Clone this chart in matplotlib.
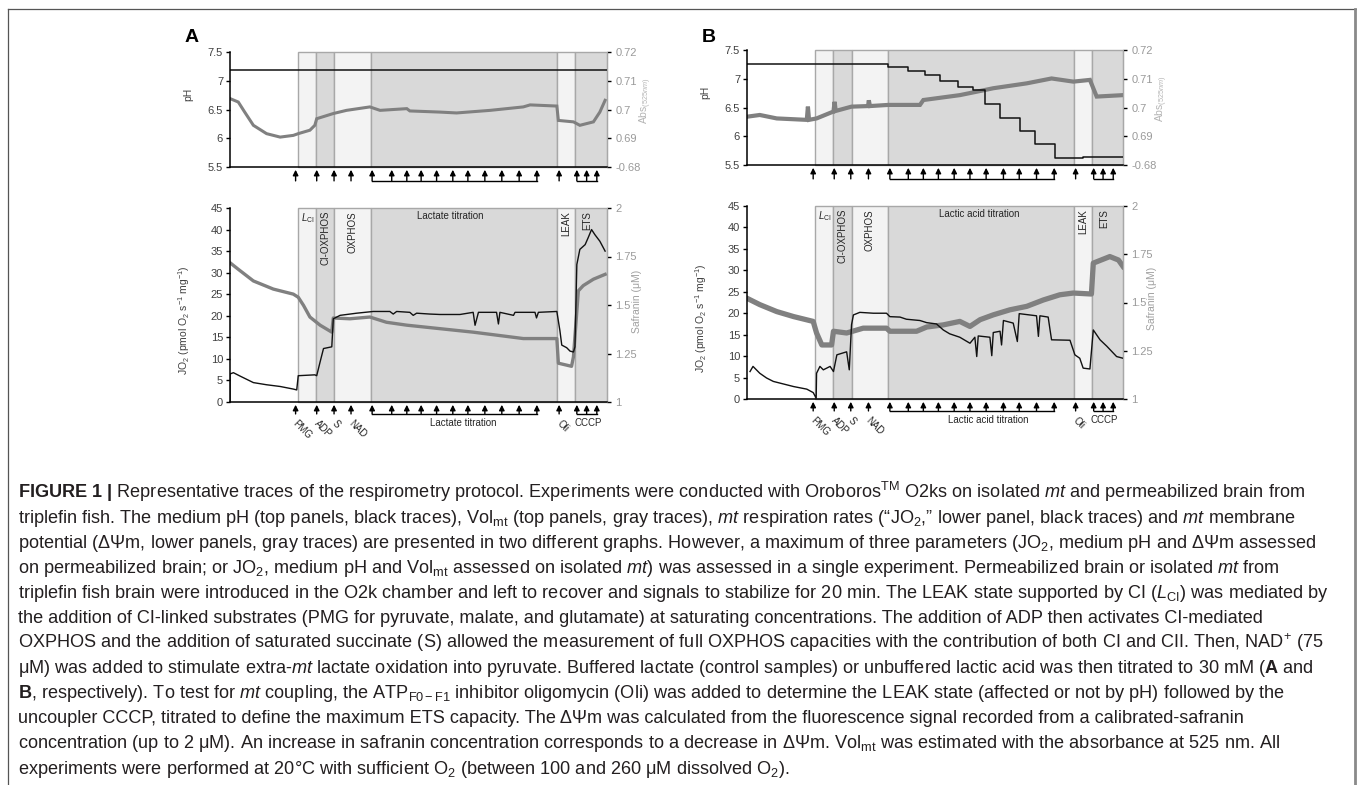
import matplotlib
matplotlib.use('Agg')
import matplotlib.pyplot as plt
from matplotlib.transforms import ScaledTranslation
from matplotlib.lines import Line2D

plt.rcParams['font.family'] = ['Liberation Sans', 'DejaVu Sans']
plt.rcParams['mathtext.fontset'] = 'custom'
plt.rcParams['mathtext.rm'] = 'Liberation Sans'
plt.rcParams['mathtext.it'] = 'Liberation Sans:italic'
plt.rcParams['mathtext.bf'] = 'Liberation Sans:bold'

# ---- panel A (lactate) ----
a_bounds = [18.0, 22.8, 27.6, 37.4, 86.7, 91.5, 100]
a_ph_t = [0, 100]
a_ph = [7.19, 7.19]
a_abs_t = [0, 2.2, 3.9, 6.2, 9.7, 13.3, 16.8, 18.1, 21.2, 22.5, 23.0, 27.4, 30.9, 37.1, 39.8,
           46.9, 47.7, 55.7, 60.1, 69.0, 77.8, 79.6, 86.7, 87.1, 91.1, 92.8, 96.4, 98.1, 99.5]
a_abs = [0.7038, 0.7026, 0.6991, 0.6945, 0.6916, 0.6904, 0.6910, 0.6916, 0.6928, 0.6945, 0.6968,
         0.6986, 0.6997, 0.7009, 0.6997, 0.7003, 0.6995, 0.6991, 0.6988, 0.6997, 0.7009, 0.7016,
         0.7012, 0.6962, 0.6957, 0.6945, 0.6957, 0.6991, 0.7032]
a_jo2_t = [0, 0, 0.9, 2.7, 6.2, 9.7, 13.3, 16.8, 17.7, 18.1, 22.5, 23.0, 23.9, 24.8, 27.0, 27.4,
           29.2, 33.6, 38.0, 42.4, 43.3, 44.2, 47.7, 48.6, 49.5, 53.0, 55.7, 61.0, 64.5, 65.0,
           65.9, 70.7, 71.2, 71.6, 75.2, 75.6, 80.9, 81.3, 81.8, 86.7, 87.5, 88.0, 89.3, 90.2,
           91.1, 91.5, 92.0, 92.8, 94.2, 95.0, 95.9, 96.8, 98.1, 99.5]
a_jo2 = [0, 6.5, 6.8, 6.0, 4.5, 4.0, 3.6, 3.0, 2.8, 6.1, 6.3, 6.1, 9.3, 12.4, 12.8, 19.3,
         20.1, 20.6, 21.0, 21.0, 20.4, 21.0, 20.8, 20.1, 20.6, 20.4, 20.3, 20.3, 20.8, 17.8,
         20.8, 20.8, 18.1, 20.8, 20.1, 20.8, 20.8, 19.5, 20.8, 21.0, 16.6, 13.2, 12.6, 11.8,
         11.6, 12.8, 31.9, 35.4, 36.5, 38.1, 40.0, 38.8, 37.3, 35.0]
a_saf_t = [0, 2.2, 6.2, 11.5, 16.8, 18.1, 19.5, 21.2, 23.9, 27.0, 27.4, 31.8, 37.1, 41.5, 46.9,
           55.7, 64.5, 73.4, 77.8, 86.7, 87.1, 90.6, 91.1, 92.4, 93.7, 96.4, 99.5]
a_saf = [1.718, 1.684, 1.624, 1.582, 1.556, 1.540, 1.498, 1.438, 1.396, 1.360, 1.433, 1.429,
         1.438, 1.411, 1.396, 1.378, 1.360, 1.338, 1.327, 1.327, 1.200, 1.184, 1.233, 1.573,
         1.600, 1.633, 1.658]
a_arrows = [17.4, 23.0, 27.6, 32.1, 37.7, 42.9, 46.9, 50.7, 54.8, 59.1, 63.1, 67.6, 72.1,
            76.7, 81.4, 87.3, 92.0, 94.6, 97.3]

# ---- panel B (lactic acid) ----
b_bounds = [18.1, 23.0, 27.8, 37.6, 87.0, 91.8, 100]
b_ph_t = [0, 37.6, 42.9, 47.3, 51.3, 56.2, 60.2, 63.3, 67.3, 72.6, 76.6, 81.9, 89.4, 100]
b_ph = [7.25, 7.21, 7.14, 7.06, 6.96, 6.86, 6.81, 6.56, 6.31, 6.09, 5.86, 5.63, 5.64, 5.64]
b_abs_t = [0, 3.4, 7.9, 15.9, 16.2, 16.5, 18.5, 23.0, 23.3, 23.6, 27.8, 32.2, 32.4, 32.7,
           37.6, 46.0, 46.9, 56.6, 61.1, 65.5, 74.4, 81.0, 86.8, 91.2, 93.0, 100]
b_abs = [0.6968, 0.6974, 0.6962, 0.6957, 0.7003, 0.6957, 0.6962, 0.6986, 0.7020, 0.6988,
         0.7003, 0.7005, 0.7025, 0.7005, 0.7009, 0.7009, 0.7026, 0.7043, 0.7055, 0.7067,
         0.7084, 0.7101, 0.7090, 0.7096, 0.7038, 0.7043]
b_jo2_t = [0.8, 1.6, 3.4, 5.2, 7.0, 8.8, 12.4, 15.9, 17.6, 18.4, 18.5, 19.4, 20.3, 22.1, 23.0,
           23.9, 26.5, 27.2, 27.8, 28.3, 30.0, 33.6, 37.1, 38.0, 40.7, 42.4, 46.0, 47.8, 50.4,
           52.2, 53.9, 56.6, 59.3, 60.6, 61.1, 61.5, 64.6, 65.1, 65.5, 67.3, 67.7, 68.2, 70.8,
           71.9, 72.4, 77.0, 77.5, 77.9, 80.1, 80.6, 81.0, 85.9, 87.2, 88.5, 89.4, 91.2, 92.1,
           93.9, 95.7, 98.3, 100]
b_jo2 = [6.4, 7.6, 6.0, 4.9, 4.1, 3.7, 2.9, 2.3, 1.5, 0.2, 6.0, 7.6, 6.8, 7.6, 6.4,
         10.3, 11.0, 6.8, 17.3, 19.6, 20.2, 20.0, 20.0, 19.2, 19.1, 18.6, 18.3, 17.8, 17.5,
         16.1, 15.2, 14.4, 13.0, 14.4, 9.9, 14.7, 14.4, 10.1, 15.5, 15.8, 12.6, 18.3, 17.7,
         13.4, 19.9, 19.4, 14.6, 19.4, 19.1, 16.1, 13.8, 13.7, 10.3, 9.5, 7.2, 7.0, 16.1,
         13.8, 12.3, 9.9, 9.5]
b_saf_t = [0, 3.4, 7.9, 12.4, 17.6, 18.5, 19.9, 22.5, 23.0, 26.5, 30.9, 37.1, 38.0, 45.1, 47.8,
           52.2, 56.6, 59.3, 62.0, 65.5, 69.9, 74.4, 78.8, 83.2, 86.8, 91.6, 92.1, 96.5, 98.8, 100]
b_saf = [1.522, 1.489, 1.453, 1.427, 1.402, 1.342, 1.280, 1.280, 1.351, 1.342, 1.367, 1.367,
         1.351, 1.351, 1.373, 1.384, 1.402, 1.376, 1.411, 1.436, 1.462, 1.480, 1.513, 1.540,
         1.549, 1.544, 1.704, 1.738, 1.720, 1.687]
b_arrows = [17.6, 23.2, 27.6, 32.3, 38.0, 42.9, 46.9, 50.9, 55.1, 59.3, 63.6, 68.2, 72.4,
            77.0, 81.7, 87.4, 92.2, 94.7, 97.4]

region_shade = ['#f3f3f3', '#d9d9d9', '#f3f3f3', '#d9d9d9', '#f3f3f3', '#d9d9d9']
add_labels = ['PMG', 'ADP', 'S', 'NAD']

ph_ticks = [5.5, 6, 6.5, 7, 7.5]
ph_labels = ['5.5', '6', '6.5', '7', '7.5']
abs_ticks = [0.68, 0.69, 0.70, 0.71, 0.72]
abs_labels = ['-0.68', '0.69', '0.7', '0.71', '0.72']
jo_ticks = [0, 5, 10, 15, 20, 25, 30, 35, 40, 45]
saf_ticks = [1, 1.25, 1.5, 1.75, 2]
saf_labels = ['1', '1.25', '1.5', '1.75', '2']

caption = [
    r"$\mathbf{FIGURE\ 1\ |}$ Representative traces of the respirometry protocol. Experiments were conducted with Oroboros$^{\mathrm{TM}}$ O2ks on isolated $\mathit{mt}$ and permeabilized brain from",
    r"triplefin fish. The medium pH (top panels, black traces), Vol$_{\mathrm{mt}}$ (top panels, gray traces), $\mathit{mt}$ respiration rates (“JO$_2$,” lower panel, black traces) and $\mathit{mt}$ membrane",
    r"potential (ΔΨm, lower panels, gray traces) are presented in two different graphs. However, a maximum of three parameters (JO$_2$, medium pH and ΔΨm assessed",
    r"on permeabilized brain; or JO$_2$, medium pH and Vol$_{\mathrm{mt}}$ assessed on isolated $\mathit{mt}$) was assessed in a single experiment. Permeabilized brain or isolated $\mathit{mt}$ from",
    r"triplefin fish brain were introduced in the O2k chamber and left to recover and signals to stabilize for 20 min. The LEAK state supported by CI ($\mathit{L}_{\mathrm{CI}}$) was mediated by",
    r"the addition of CI-linked substrates (PMG for pyruvate, malate, and glutamate) at saturating concentrations. The addition of ADP then activates CI-mediated",
    r"OXPHOS and the addition of saturated succinate (S) allowed the measurement of full OXPHOS capacities with the contribution of both CI and CII. Then, NAD$^{+}$ (75",
    r"μM) was added to stimulate extra-$\mathit{mt}$ lactate oxidation into pyruvate. Buffered lactate (control samples) or unbuffered lactic acid was then titrated to 30 mM ($\mathbf{A}$ and",
    r"$\mathbf{B}$, respectively). To test for $\mathit{mt}$ coupling, the ATP$_{\mathrm{F0-F1}}$ inhibitor oligomycin (Oli) was added to determine the LEAK state (affected or not by pH) followed by the",
    r"uncoupler CCCP, titrated to define the maximum ETS capacity. The ΔΨm was calculated from the fluorescence signal recorded from a calibrated-safranin",
    r"concentration (up to 2 μM). An increase in safranin concentration corresponds to a decrease in ΔΨm. Vol$_{\mathrm{mt}}$ was estimated with the absorbance at 525 nm. All",
    r"experiments were performed at 20°C with sufficient O$_2$ (between 100 and 260 μM dissolved O$_2$).",
]

W, H = 1357, 785
fig = plt.figure(figsize=(W / 100, H / 100), dpi=100)
GRAY = '#808080'
EDGE = '#a8a8a8'


def px_rect(x0, y0, x1, y1):
    return [x0 / W, 1 - y1 / H, (x1 - x0) / W, (y1 - y0) / H]


def style_axes(ax, axr):
    ax.set_zorder(axr.get_zorder() + 1)
    ax.patch.set_visible(False)
    ax.set_xlim(0, 100)
    ax.set_xticks([])
    for s in ['top', 'right']:
        ax.spines[s].set_visible(False)
    for s in ['left', 'bottom']:
        ax.spines[s].set_linewidth(1.1)
        ax.spines[s].set_color('k')
    for s in ['top', 'left', 'bottom']:
        axr.spines[s].set_visible(False)
    axr.spines['right'].set_color(EDGE)
    ax.tick_params(axis='y', direction='out', length=3, width=1, color='k',
                   labelcolor='#404040', labelsize=8, pad=2)
    axr.tick_params(axis='y', direction='out', length=3, width=1, color='k',
                    labelcolor='#9a9a9a', labelsize=8, pad=3)


def shade(axr, bounds):
    for i in range(len(bounds) - 1):
        axr.axvspan(bounds[i], bounds[i + 1], facecolor=region_shade[i], edgecolor=EDGE,
                    lw=1.0, zorder=0, clip_on=False)


def arrows(ax, times, base_pt):
    tr = ax.get_xaxis_transform()
    tip = tr + ScaledTranslation(0, -2 / 72, fig.dpi_scale_trans)
    base = tr + ScaledTranslation(0, -base_pt / 72, fig.dpi_scale_trans)
    for t in times:
        ax.annotate('', xy=(t, 0), xycoords=tip, xytext=(t, 0), textcoords=base,
                    arrowprops=dict(arrowstyle='-|>', color='k', lw=1.0, shrinkA=0, shrinkB=0,
                                    mutation_scale=8),
                    annotation_clip=False)
    for g in [times[4:15], times[16:19]]:
        ax.plot([g[0], g[-1]], [0, 0], transform=base, color='k', lw=1.0, clip_on=False,
                solid_capstyle='projecting')


def panel(letter, lx, top_px, bot_px, bounds, ph_t, ph, abs_t, abs_v, abs_lw,
          jo_t, jo, saf_t, saf, saf_lw, arr, title, title_x, below, below_x):
    # ---- top: pH / absorbance
    ax = fig.add_axes(px_rect(*top_px))
    axr = ax.twinx()
    style_axes(ax, axr)
    shade(axr, bounds)
    axr.plot(abs_t, abs_v, color=GRAY, lw=abs_lw, solid_joinstyle='miter')
    ax.plot(ph_t, ph, color='#111111', lw=1.1, drawstyle='steps-post')
    ax.set_ylim(5.5, 7.5)
    ax.set_yticks(ph_ticks)
    ax.set_yticklabels(ph_labels)
    axr.set_ylim(0.68, 0.72)
    axr.set_yticks(abs_ticks)
    axr.set_yticklabels(abs_labels)
    ax.set_ylabel('pH', fontsize=7.5, color='#404040')
    ax.yaxis.set_label_coords(-0.098, 0.63)
    axr.set_ylabel(r'Abs$_{(525nm)}$', fontsize=7.5, color='#b4b4b4')
    axr.yaxis.set_label_coords(1.082, 0.58)
    arrows(ax, arr, 10)

    # ---- bottom: JO2 / safranin
    bx = fig.add_axes(px_rect(*bot_px))
    bxr = bx.twinx()
    style_axes(bx, bxr)
    shade(bxr, bounds)
    bxr.plot(saf_t, saf, color=GRAY, lw=saf_lw)
    bx.plot(jo_t, jo, color='#111111', lw=1.0)
    bx.set_ylim(0, 45)
    bx.set_yticks(jo_ticks)
    bx.set_yticklabels([str(v) for v in jo_ticks])
    bxr.set_ylim(1, 2)
    bxr.set_yticks(saf_ticks)
    bxr.set_yticklabels(saf_labels)
    bx.set_ylabel(r'JO$_2$ (pmol O$_2$ s$^{-1}$ mg$^{-1}$)', fontsize=7.5, color='#404040')
    bx.yaxis.set_label_coords(-0.1, 0.42)
    bxr.set_ylabel('Safranin (μM)', fontsize=7.5, color='#a0a0a0')
    bxr.yaxis.set_label_coords(1.065, 0.52)

    tr = bx.get_xaxis_transform()
    mid = [(bounds[i] + bounds[i + 1]) / 2 for i in range(len(bounds) - 1)]
    txt = dict(fontsize=7, color='#262626')
    bx.text(bounds[0] + 0.8, 0.985, r'$\mathit{L}_{\mathrm{CI}}$', transform=tr, ha='left',
            va='top', **txt)
    bx.text(mid[1], 0.985, 'CI-OXPHOS', transform=tr, rotation=90, ha='center', va='top', **txt)
    bx.text(mid[2], 0.985, 'OXPHOS', transform=tr, rotation=90, ha='center', va='top', **txt)
    bx.text(title_x, 0.985, title, transform=tr, ha='center', va='top', **txt)
    bx.text(mid[4], 0.985, 'LEAK', transform=tr, rotation=90, ha='center', va='top', **txt)
    bx.text(mid[5] - 1, 0.985, 'ETS', transform=tr, rotation=90, ha='center', va='top', **txt)

    arrows(bx, arr, 8.6)
    lab = tr + ScaledTranslation(2 / 72, -11.5 / 72, fig.dpi_scale_trans)
    for t, s in zip(arr[:4], add_labels):
        bx.text(t, 0, s, transform=lab, rotation=-45, rotation_mode='anchor', ha='left',
                va='top', **txt)
    bx.text(arr[15], 0, 'Oli', transform=lab, rotation=-45, rotation_mode='anchor',
            ha='left', va='top', **txt)
    lab2 = tr + ScaledTranslation(0, -11.5 / 72, fig.dpi_scale_trans)
    bx.text(below_x, 0, below, transform=lab2, ha='center', va='top', **txt)
    bx.text(95, 0, 'CCCP', transform=lab2, ha='center', va='top', **txt)

    fig.text(lx / W, 1 - 42 / H, letter, fontsize=14, fontweight='bold', ha='left',
             va='baseline')


panel('A', 185, (230, 52, 607, 167), (230, 208, 607, 402), a_bounds, a_ph_t, a_ph,
      a_abs_t, a_abs, 2.2, a_jo2_t, a_jo2, a_saf_t, a_saf, 2.4, a_arrows,
      'Lactate titration', 58.5, 'Lactate titration', 61.8)
panel('B', 702, (747, 50, 1123, 165), (747, 206, 1123, 399), b_bounds, b_ph_t, b_ph,
      b_abs_t, b_abs, 3.0, b_jo2_t, b_jo2, b_saf_t, b_saf, 3.8, b_arrows,
      'Lactic acid titration', 61.7, 'Lactic acid titration', 64.1)

# caption frame
fig.add_artist(Line2D([8 / W, 1356 / W], [1 - 9 / H, 1 - 9 / H], transform=fig.transFigure,
                      color='#555555', lw=0.9))
fig.add_artist(Line2D([8 / W, 8 / W], [0, 1 - 9 / H], transform=fig.transFigure,
                      color='#555555', lw=0.9))
fig.add_artist(Line2D([1355 / W, 1355 / W], [0, 1 - 9 / H], transform=fig.transFigure,
                      color='#8a8a8a', lw=2.0))

for i, line in enumerate(caption):
    fig.text(18 / W, 1 - (497.5 + i * 25.1) / H, line, fontsize=13.1, color='#231f20',
             ha='left', va='baseline')

fig.savefig('out.png', dpi=100)
